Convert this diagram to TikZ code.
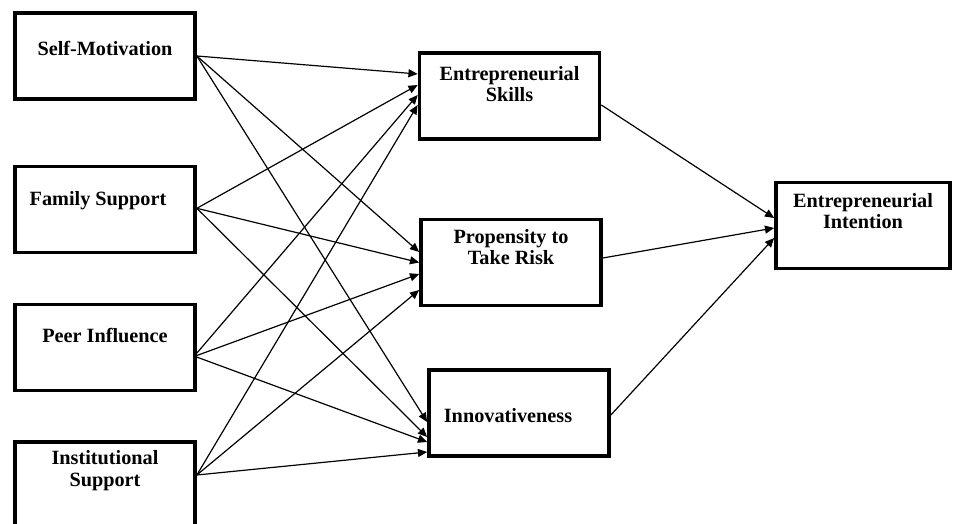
\documentclass[tikz,border=0pt]{standalone}
\usepackage{fontspec}
\setmainfont{Liberation Serif}
\usetikzlibrary{arrows.meta}

\begin{document}
\begin{tikzpicture}[x=0.025cm, y=-0.025cm,
		varbox/.style = {draw=black, line width=2.6pt, minimum width=4.5cm, minimum height=2.15cm, inner sep=0pt},
		varlbl/.style = {align=center, inner sep=1pt, anchor=center, font=\fontsize{14.4}{15.3}\selectfont\bfseries},
		link/.style = {-{Triangle[length=2.3mm, width=2mm]}, line width=0.85pt}]
	\useasboundingbox (0,0) rectangle (953,524);
	\clip (0,0) rectangle (953,524);
	% independent variables
	\node [varbox, label={[varlbl, yshift=-0.925cm]north:Self-Motivation}] (SM) at (105,56) {};
	\node [varbox, label={[varlbl, xshift=-0.175cm, yshift=-0.9cm]north:Family Support}] (FS) at (105,209.5) {};
	\node [varbox, label={[varlbl, yshift=-0.825cm]north:Peer Influence}] (PI) at (105,347.5) {};
	\node [varbox, label={[varlbl, yshift=-0.76cm]north:{Institutional\\Support}}] (IS) at (105,485) {};
	% mediators
	\node [varbox, label={[varlbl, yshift=-0.825cm]north:{Entrepreneurial\\Skills}}] (ES) at (509.5,96) {};
	\node [varbox, label={[varlbl, yshift=-0.74cm]north:{Propensity to\\Take Risk}}] (PTR) at (511,262.5) {};
	\node [varbox, label={[varlbl, xshift=-0.275cm, yshift=-1.175cm]north:Innovativeness}] (INN) at (519,413) {};
	% outcome
	\node [varbox, minimum width=4.35cm, label={[varlbl, yshift=-0.76cm]north:{Entrepreneurial\\Intention}}] (EI) at (863,225.5) {};

	\foreach \src/\sy/\dst/\dy in {SM/0/ES/0.55, SM/0/PTR/0.2625, SM/0/INN/-0.225,
			FS/0.03/ES/0.275, FS/0.03/PTR/0, FS/0.03/INN/-0.6,
			PI/-0.14/ES/0.025, PI/-0.2/PTR/-0.2875, PI/-0.24/INN/-0.725,
			IS/0.25/ES/-0.225, IS/0.25/PTR/-0.6875, IS/0.25/INN/-0.975}
		\draw [link] ([yshift=\sy cm]\src.east) -- ([yshift=\dy cm]\dst.west);

	\draw [link] ([yshift=-0.225cm]ES.east) -- ([yshift=0.1875cm]EI.west);
	\draw [link] ([yshift=0.1125cm]PTR.east) -- ([yshift=-0.0625cm]EI.west);
	\draw [link] ([yshift=-0.05cm]INN.east) -- ([yshift=-0.3125cm]EI.west);
\end{tikzpicture}
\end{document}
